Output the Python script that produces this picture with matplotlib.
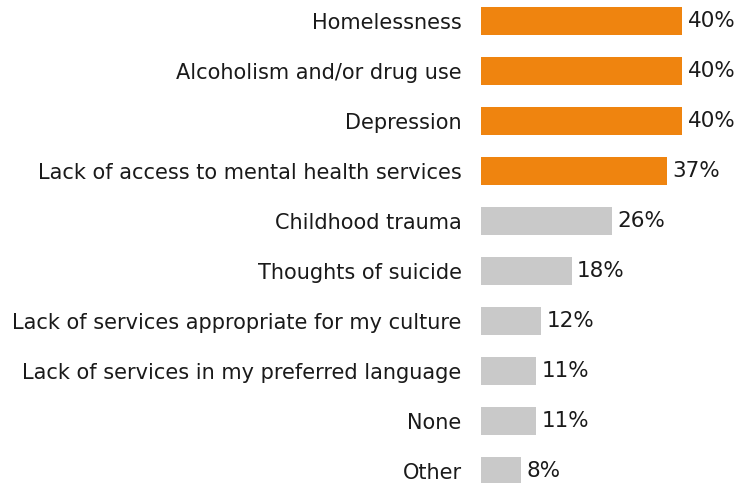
import matplotlib
matplotlib.use('Agg')
import matplotlib.pyplot as plt

categories = ['Homelessness', 'Alcoholism and/or drug use', 'Depression',
              'Lack of access to mental health services', 'Childhood trauma',
              'Thoughts of suicide', 'Lack of services appropriate for my culture',
              'Lack of services in my preferred language', 'None', 'Other']
values = [40, 40, 40, 37, 26, 18, 12, 11, 11, 8]
highlighted = [True, True, True, True, False, False, False, False, False, False]

orange = '#EF840F'
grey = '#C9C9C9'

fig = plt.figure(figsize=(7.46, 4.83), dpi=100)
ax = fig.add_axes([481 / 746, 0, 265 / 746, 1])

rows = list(range(len(categories)))
colors = [orange if h else grey for h in highlighted]
ax.barh(rows, values, height=0.56, color=colors, edgecolor='none')

for r, v in zip(rows, values):
    ax.text(v + 1.1, r, f'{v}%', va='center', ha='left', fontsize=15.5, color='#1a1a1a')

ax.set_xlim(0, 52.7)
ax.set_ylim(9.24, -0.42)
ax.set_yticks(rows)
ax.set_yticklabels(categories, fontsize=15, color='#1a1a1a')
ax.tick_params(axis='y', length=0, pad=14)
ax.set_xticks([])
for s in ax.spines.values():
    s.set_visible(False)
ax.patch.set_alpha(0)

fig.savefig('out.png', dpi=100)
